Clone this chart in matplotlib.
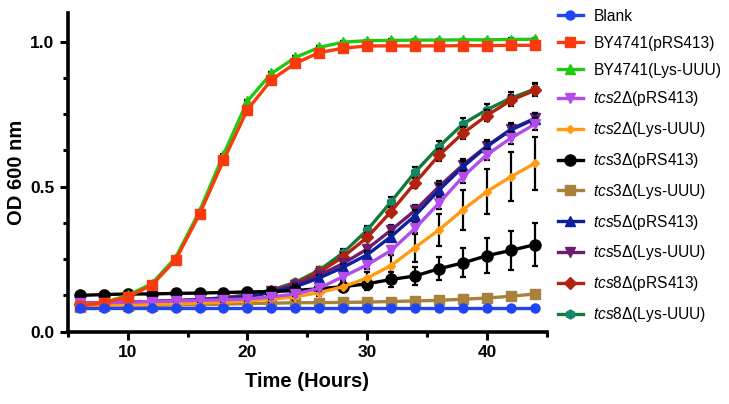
import matplotlib.pyplot as plt
from matplotlib.ticker import MultipleLocator

plt.rcParams['font.family'] = ['Liberation Sans', 'DejaVu Sans']
plt.rcParams['mathtext.fontset'] = 'custom'
plt.rcParams['mathtext.rm'] = 'Liberation Sans'
plt.rcParams['mathtext.it'] = 'Liberation Sans:italic'

hours = [6, 8, 10, 12, 14, 16, 18, 20, 22, 24, 26, 28, 30, 32, 34, 36, 38, 40, 42, 44]

blank = [0.08] * 20
by_prs = [0.09, 0.10, 0.12, 0.16, 0.247, 0.405, 0.59, 0.765, 0.868, 0.925,
          0.962, 0.977, 0.985, 0.985, 0.985, 0.985, 0.986, 0.986, 0.987, 0.987]
by_lys = [0.09, 0.10, 0.125, 0.165, 0.255, 0.415, 0.61, 0.795, 0.89, 0.945,
          0.98, 0.998, 1.003, 1.004, 1.005, 1.005, 1.006, 1.006, 1.007, 1.008]
tcs2_prs = [0.10, 0.10, 0.102, 0.104, 0.106, 0.108, 0.11, 0.113, 0.12, 0.13,
            0.15, 0.19, 0.23, 0.28, 0.356, 0.443, 0.534, 0.61, 0.667, 0.715]
tcs2_lys = [0.088, 0.09, 0.092, 0.094, 0.096, 0.099, 0.102, 0.106, 0.112, 0.12,
            0.135, 0.155, 0.185, 0.228, 0.29, 0.351, 0.42, 0.483, 0.534, 0.58]
tcs3_prs = [0.125, 0.128, 0.13, 0.13, 0.132, 0.133, 0.135, 0.137, 0.138, 0.142,
            0.148, 0.155, 0.165, 0.18, 0.192, 0.217, 0.237, 0.262, 0.28, 0.30]
tcs3_lys = [0.085, 0.087, 0.088, 0.09, 0.092, 0.093, 0.095, 0.097, 0.098, 0.10,
            0.10, 0.101, 0.102, 0.104, 0.106, 0.108, 0.112, 0.116, 0.122, 0.13]
tcs5_prs = [0.10, 0.10, 0.102, 0.104, 0.106, 0.109, 0.113, 0.12, 0.135, 0.155,
            0.185, 0.222, 0.265, 0.328, 0.40, 0.488, 0.568, 0.638, 0.695, 0.733]
tcs5_lys = [0.10, 0.10, 0.102, 0.104, 0.107, 0.11, 0.115, 0.123, 0.14, 0.162,
            0.195, 0.235, 0.285, 0.35, 0.418, 0.50, 0.575, 0.64, 0.698, 0.735]
tcs8_prs = [0.095, 0.097, 0.10, 0.103, 0.106, 0.11, 0.116, 0.125, 0.14, 0.165,
            0.205, 0.258, 0.325, 0.414, 0.513, 0.608, 0.684, 0.745, 0.797, 0.832]
tcs8_lys = [0.095, 0.097, 0.10, 0.103, 0.107, 0.111, 0.117, 0.127, 0.143, 0.17,
            0.212, 0.272, 0.35, 0.448, 0.55, 0.638, 0.716, 0.765, 0.805, 0.836]

err_small = [0.004] * 20
err_mid = [0.005, 0.005, 0.005, 0.005, 0.005, 0.005, 0.006, 0.006, 0.007, 0.008,
           0.01, 0.012, 0.014, 0.016, 0.018, 0.02, 0.02, 0.02, 0.02, 0.02]
err_tcs2_lys = [0.004, 0.004, 0.004, 0.004, 0.005, 0.005, 0.006, 0.007, 0.008, 0.01,
                0.012, 0.015, 0.02, 0.035, 0.05, 0.055, 0.068, 0.078, 0.085, 0.09]
err_tcs3_prs = [0.012, 0.012, 0.012, 0.012, 0.012, 0.012, 0.013, 0.013, 0.013, 0.013,
                0.014, 0.015, 0.02, 0.025, 0.03, 0.04, 0.05, 0.06, 0.067, 0.075]

labels = ['Blank', 'BY4741(pRS413)', 'BY4741(Lys-UUU)',
          r'$\mathit{tcs2}$Δ(pRS413)', r'$\mathit{tcs2}$Δ(Lys-UUU)',
          r'$\mathit{tcs3}$Δ(pRS413)', r'$\mathit{tcs3}$Δ(Lys-UUU)',
          r'$\mathit{tcs5}$Δ(pRS413)', r'$\mathit{tcs5}$Δ(Lys-UUU)',
          r'$\mathit{tcs8}$Δ(pRS413)', r'$\mathit{tcs8}$Δ(Lys-UUU)']
series = [blank, by_prs, by_lys, tcs2_prs, tcs2_lys, tcs3_prs, tcs3_lys,
          tcs5_prs, tcs5_lys, tcs8_prs, tcs8_lys]
errors = [err_small, err_small, err_small, err_mid, err_tcs2_lys, err_tcs3_prs,
          err_small, err_mid, err_mid, err_mid, err_mid]
colors = ['#1f45f5', '#fa3a0c', '#22c912', '#b44ceb', '#ff9a12', '#000000',
          '#a9803c', '#0c1f9c', '#6e1c6e', '#b3210f', '#147a3a']
marker_colors = ['#1f45f5', '#fa3a0c', '#22c912', '#b44ceb', '#ff9a12', '#000000',
                 '#a9803c', '#0c1f9c', '#6e1c6e', '#b3210f', '#14876a']
markers = ['o', 's', '^', 'v', 'D', 'o', 's', '^', 'v', 'D', 'h']
msizes = [6.5, 6.5, 6.5, 6.5, 4.5, 8, 7, 7, 7, 6.5, 6.5]

fig = plt.figure(figsize=(7.29, 4.04), dpi=100)
ax = fig.add_axes([0.093, 0.179, 0.657, 0.79])

n = len(series)
for i in range(n):
    z = 40 - 3 * i
    ax.errorbar(hours, series[i], yerr=errors[i], fmt='none', ecolor='black',
                elinewidth=1.6, capsize=2.5, capthick=1.6, zorder=z)
    ax.plot(hours, series[i], color=colors[i], lw=2.4, marker=markers[i],
            ms=msizes[i], mfc=marker_colors[i], mec=marker_colors[i],
            label=labels[i], zorder=z + 1)

ax.set_xlim(5, 45)
ax.set_ylim(0, 1.1)
ax.xaxis.set_major_locator(MultipleLocator(10))
ax.xaxis.set_minor_locator(MultipleLocator(5))
ax.set_yticks([0, 0.5, 1.0])
ax.set_yticklabels(['0.0', '0.5', '1.0'])
ax.yaxis.set_minor_locator(MultipleLocator(0.125))

for side in ['top', 'right']:
    ax.spines[side].set_visible(False)
for side in ['left', 'bottom']:
    ax.spines[side].set_linewidth(2.6)
ax.tick_params(which='major', length=6, width=2.2, labelsize=12.5)
ax.tick_params(which='minor', length=3.5, width=2.2)
for lab in ax.get_xticklabels() + ax.get_yticklabels():
    lab.set_fontweight('bold')

ax.set_xlabel('Time (Hours)', fontsize=14.5, fontweight='bold', labelpad=9)
ax.set_ylabel('OD 600 nm', fontsize=14.5, fontweight='bold', labelpad=3)

fig.legend(loc='upper left', bbox_to_anchor=(0.766, 0.978), frameon=False,
           fontsize=11.2, numpoints=1, handlelength=1.55, handletextpad=0.7,
           labelspacing=0.76, borderpad=0, borderaxespad=0)

fig.savefig('out.png', dpi=100)
